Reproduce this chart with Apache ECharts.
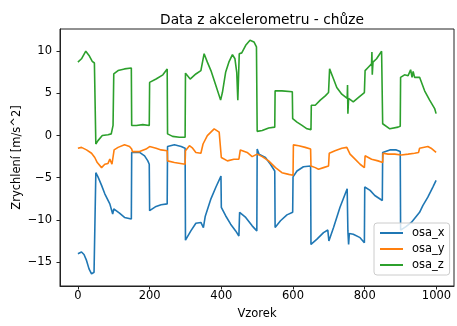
<!DOCTYPE html>
<html>
<head>
<meta charset="utf-8">
<script src="https://cdn.jsdelivr.net/npm/echarts@6/dist/echarts.min.js"></script>
<style>html,body{margin:0;padding:0;background:#fff}#c{width:457px;height:326px}</style>
</head>
<body>
<div id="c"></div>
<script>
const title = 'Data z akcelerometru - chůze';
const xName = 'Vzorek';
const yName = 'Zrychlení [m/s^2]';
const seriesNames = ['osa_x', 'osa_y', 'osa_z'];
const xTicks = [0, 200, 400, 600, 800, 1000];
const yTicks = [-15, -10, -5, 0, 5, 10];

const osaX = [[0,-14.0],[10,-13.8],[17,-14.1],[24,-14.8],[31,-15.8],[38,-16.4],[45,-16.2],[49,-16.0],[50,-4.4],[56,-4.9],[66,-5.9],[75,-6.9],[89,-8.1],[97,-9.3],[100,-8.7],[116,-9.2],[130,-9.7],[149,-9.9],[150,-2.0],[172,-2.0],[186,-2.4],[195,-3.0],[199,-3.4],[200,-8.9],[218,-8.4],[232,-8.2],[249,-8.1],[250,-1.3],[269,-1.1],[288,-1.3],[299,-1.5],[300,-12.4],[315,-11.3],[329,-10.4],[343,-10.3],[350,-10.9],[355,-9.6],[371,-7.5],[385,-6.1],[399,-4.8],[400,-8.5],[412,-9.5],[426,-10.5],[440,-11.3],[449,-11.9],[451,-9.1],[468,-9.7],[486,-10.7],[499,-11.3],[500,-1.6],[505,-2.2],[523,-2.6],[537,-3.4],[549,-4.2],[550,-10.9],[565,-10.1],[583,-9.4],[599,-9.1],[600,-4.9],[611,-4.2],[629,-3.7],[649,-3.6],[650,-12.9],[666,-12.3],[685,-11.5],[697,-11.2],[700,-12.5],[713,-10.9],[731,-8.5],[751,-6.3],[753,-11.3],[755,-12.9],[757,-11.6],[768,-11.7],[787,-12.1],[799,-12.7],[800,-6.1],[815,-6.5],[828,-7.1],[849,-7.7],[850,-2.0],[870,-1.7],[888,-1.7],[899,-1.9],[900,-11.2],[915,-10.8],[930,-10.3],[953,-9.1],[962,-8.3],[976,-7.3],[990,-6.1],[999,-5.3]];

const osaY = [[0,-1.5],[10,-1.4],[24,-1.7],[38,-2.1],[47,-2.6],[54,-3.2],[66,-3.8],[75,-3.4],[84,-3.3],[89,-2.8],[95,-3.4],[101,-1.7],[112,-1.4],[130,-1.1],[144,-1.3],[150,-1.6],[152,-1.9],[172,-1.9],[190,-1.6],[200,-1.3],[204,-1.1],[218,-1.5],[232,-1.7],[249,-1.8],[250,-3.0],[269,-3.2],[299,-3.4],[300,-1.8],[311,-1.2],[320,-1.5],[329,-2.0],[343,-2.1],[349,-1.0],[361,0.0],[380,0.8],[394,0.4],[398,0.3],[400,-2.6],[417,-3.0],[435,-2.8],[449,-2.8],[453,-1.7],[472,-2.0],[486,-2.5],[500,-2.2],[514,-2.5],[532,-3.0],[551,-3.8],[569,-4.4],[588,-4.6],[600,-4.7],[601,-1.1],[616,-1.2],[634,-1.4],[649,-1.6],[650,-3.6],[662,-3.8],[671,-4.0],[685,-3.8],[699,-3.6],[701,-2.1],[717,-1.8],[736,-1.5],[750,-1.4],[759,-2.2],[773,-2.8],[787,-3.4],[799,-3.8],[801,-2.4],[819,-2.8],[837,-3.0],[850,-3.2],[851,-2.1],[865,-2.2],[884,-2.2],[902,-2.3],[921,-2.2],[939,-2.1],[950,-2.0],[953,-1.5],[976,-1.3],[985,-1.5],[999,-2.0]];

const osaZ = [[0,8.7],[10,9.1],[22,10.0],[31,9.5],[40,8.8],[46,8.6],[49,8.5],[50,-1.0],[56,-0.6],[68,0.0],[84,0.1],[93,0.2],[98,1.2],[100,7.3],[112,7.7],[130,7.9],[149,8.0],[150,1.2],[163,1.2],[181,1.3],[199,1.2],[200,6.3],[218,6.7],[237,7.2],[249,7.9],[250,0.2],[264,-0.1],[283,-0.2],[299,-0.2],[300,7.4],[313,6.7],[329,7.3],[343,7.7],[348,7.8],[352,9.7],[361,8.7],[371,7.7],[385,5.9],[398,4.2],[403,5.1],[412,7.5],[421,8.7],[431,9.6],[438,9.1],[443,7.5],[446,4.2],[450,9.7],[457,9.8],[468,10.7],[480,11.3],[491,11.1],[498,10.5],[499,10.3],[500,0.5],[514,0.6],[532,0.9],[549,1.0],[550,5.3],[569,5.3],[598,5.2],[599,2.0],[611,1.6],[625,1.2],[639,0.8],[650,0.7],[651,3.6],[662,3.6],[676,4.2],[690,4.7],[699,5.1],[702,7.9],[713,6.7],[722,5.7],[736,4.9],[751,4.4],[752,6.0],[753,2.6],[755,4.4],[768,4.0],[782,4.5],[799,5.1],[801,7.7],[810,8.1],[819,8.5],[820,9.9],[821,7.2],[823,8.7],[833,9.1],[847,10.0],[849,10.0],[850,1.4],[870,0.8],[893,1.0],[899,1.1],[900,6.9],[911,7.2],[921,7.1],[928,7.8],[932,6.9],[935,7.6],[939,6.9],[953,6.9],[967,5.3],[981,4.2],[995,3.2],[999,2.6]];

const colors = ['#1f77b4', '#ff7f0e', '#2ca02c'];
const font = 'DejaVu Sans';
const fmt = v => String(v).replace('-', '\u2212');

const chart = echarts.init(document.getElementById('c'), null, {renderer: 'canvas'});
chart.setOption({
  animation: false,
  backgroundColor: '#fff',
  title: {
    text: title, left: 257, top: 8, textAlign: 'center',
    textStyle: {fontFamily: font, fontSize: 13.8, fontWeight: 'normal', color: '#000'}
  },
  grid: {left: 60, right: 3, top: 29, bottom: 40, show: true, borderColor: '#222', borderWidth: 1, backgroundColor: 'transparent'},
  legend: {
    data: seriesNames, orient: 'vertical', left: 374, top: 223,
    icon: 'rect', itemWidth: 23, itemHeight: 2, itemGap: 4,
    padding: [4, 5, 4, 6],
    backgroundColor: 'rgba(255,255,255,0.8)', borderColor: '#ccc', borderWidth: 1, borderRadius: 3,
    textStyle: {fontFamily: font, fontSize: 11.5, color: '#000', padding: [0, 0, 0, 4]}
  },
  xAxis: {
    type: 'value', min: -49.95, max: 1048.95,
    name: xName, nameLocation: 'middle', nameGap: 22, nameMoveOverlap: false,
    nameTextStyle: {fontFamily: font, fontSize: 11.5, color: '#000'},
    axisLine: {show: true, onZero: false, lineStyle: {color: '#222', width: 1}},
    axisTick: {show: true, length: 3.5, lineStyle: {color: '#222'}, customValues: xTicks},
    axisLabel: {fontFamily: font, fontSize: 11.5, color: '#000', margin: 4, customValues: xTicks, formatter: fmt},
    splitLine: {show: false}
  },
  yAxis: {
    type: 'value', min: -17.83, max: 12.63,
    name: yName, nameLocation: 'middle', nameGap: 37, nameRotate: 90, nameMoveOverlap: false,
    nameTextStyle: {fontFamily: font, fontSize: 11.5, color: '#000'},
    axisLine: {show: true, onZero: false, lineStyle: {color: '#222', width: 1}},
    axisTick: {show: true, length: 3.5, lineStyle: {color: '#222'}, customValues: yTicks},
    axisLabel: {fontFamily: font, fontSize: 11.5, color: '#000', margin: 8, customValues: yTicks, formatter: fmt},
    splitLine: {show: false}
  },
  series: [osaX, osaY, osaZ].map((d, i) => ({
    name: seriesNames[i], type: 'line', data: d, showSymbol: false, symbol: 'none',
    lineStyle: {color: colors[i], width: 1.6}, itemStyle: {color: colors[i]}
  }))
});
</script>
</body>
</html>
